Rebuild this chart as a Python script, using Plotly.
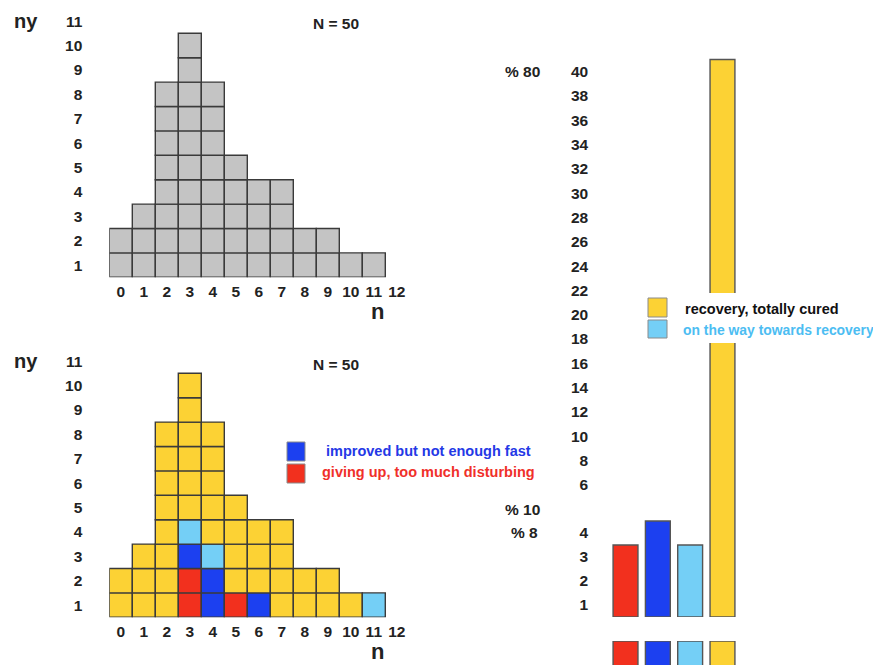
import plotly.graph_objects as go

# ---------------- data ----------------
n_values = list(range(12))
counts = [2, 3, 8, 10, 8, 5, 4, 4, 2, 2, 1, 1]
x_tick_labels = [str(i) for i in range(13)]
ny_tick_labels = [str(i) for i in range(1, 12)]

red_cells = [(3, 1), (3, 2), (5, 1)]
blue_cells = [(3, 3), (4, 1), (4, 2), (6, 1)]
lightblue_cells = [(3, 4), (4, 3), (11, 1)]

outcome_names = ["giving up, too much disturbing", "improved but not enough fast",
                 "on the way towards recovery", "recovery, totally cured"]
outcome_counts = [3, 4, 3, 40]
lower_tick_labels = [1, 2, 3, 4]
upper_tick_labels = list(range(6, 41, 2))

# ---------------- styles ----------------
W, H = 873, 665
GRAY = "#c4c4c4"
YELLOW = "#fcd234"
RED = "#f2301e"
BLUE = "#1c40f0"
LBLUE = "#74cff6"
EDGE = "#3a3a3a"
TXT = "#222222"
FONT = "Liberation Sans"
outcome_colors = [RED, BLUE, LBLUE, YELLOW]


def fx(px):
    return px / W


def fy(py):
    return 1 - py / H


fig = go.Figure()

# ---------------- grids ----------------
def cell_color(n, r):
    if (n, r) in red_cells:
        return RED
    if (n, r) in blue_cells:
        return BLUE
    if (n, r) in lightblue_cells:
        return LBLUE
    return YELLOW


for r in range(1, max(counts) + 1):
    xs = [n for n, c in zip(n_values, counts) if c >= r]
    # top grey grid
    fig.add_trace(go.Bar(x=xs, y=[1] * len(xs), base=[r - 1] * len(xs), width=1,
                         marker=dict(color=GRAY, line=dict(color=EDGE, width=1.4)),
                         xaxis="x", yaxis="y", showlegend=False, hoverinfo="skip"))
    # bottom coloured grid
    fig.add_trace(go.Bar(x=xs, y=[1] * len(xs), base=[r - 1] * len(xs), width=1,
                         marker=dict(color=[cell_color(n, r) for n in xs],
                                     line=dict(color=EDGE, width=1.4)),
                         xaxis="x2", yaxis="y2", showlegend=False, hoverinfo="skip"))

# ---------------- right bar chart (broken axis) ----------------
bar_x = list(range(len(outcome_counts)))
lower_max = 5
fig.add_trace(go.Bar(x=bar_x, y=outcome_counts, width=0.77,
                     marker=dict(color=outcome_colors, line=dict(color="#555555", width=1.4)),
                     xaxis="x3", yaxis="y3", showlegend=False, hoverinfo="skip"))
up_x = [x for x, v in zip(bar_x, outcome_counts) if v > lower_max]
up_y = [v for v in outcome_counts if v > lower_max]
up_c = [c for c, v in zip(outcome_colors, outcome_counts) if v > lower_max]
fig.add_trace(go.Bar(x=up_x, y=up_y, width=0.77,
                     marker=dict(color=up_c, line=dict(color="#555555", width=1.4)),
                     xaxis="x3", yaxis="y4", showlegend=False, hoverinfo="skip"))
# colour key squares under the bars
fig.add_trace(go.Bar(x=bar_x, y=[1] * len(bar_x), width=0.77,
                     marker=dict(color=outcome_colors, line=dict(color="#555555", width=1.4)),
                     xaxis="x3", yaxis="y5", showlegend=False, hoverinfo="skip"))

tickfont = dict(family=FONT, size=15.5, color=TXT, weight="bold")
hidden = dict(showgrid=False, zeroline=False, showline=False, ticks="", fixedrange=True)

grid_x = dict(domain=[fx(109.3), fx(408.3)], range=[-0.5, 12.5],
              tickvals=list(range(13)), ticktext=x_tick_labels, tickfont=tickfont,
              ticklabelstandoff=3, **hidden)
grid_y = dict(range=[0, 11], tickvals=[int(t) - 0.5 for t in ny_tick_labels],
              ticktext=ny_tick_labels, tickfont=tickfont, ticklabelstandoff=26, **hidden)

fig.update_layout(
    width=W, height=H, margin=dict(l=0, r=0, t=0, b=0),
    paper_bgcolor="white", plot_bgcolor="white",
    barmode="overlay", bargap=0, showlegend=False,
    xaxis=dict(anchor="y", **grid_x),
    yaxis=dict(anchor="x", domain=[fy(277.3), fy(8.9)], **grid_y),
    xaxis2=dict(anchor="y2", **grid_x),
    yaxis2=dict(anchor="x2", domain=[fy(617.3), fy(348.9)], **grid_y),
    xaxis3=dict(anchor="y3", domain=[fx(593.2), fx(754.8)], range=[-1, 4],
                showticklabels=False, **hidden),
    yaxis3=dict(anchor="x3", domain=[fy(617), fy(497)], range=[0, lower_max],
                tickvals=[t - 0.5 for t in lower_tick_labels],
                ticktext=[str(t) for t in lower_tick_labels],
                tickfont=tickfont, ticklabelstandoff=4, **hidden),
    yaxis4=dict(anchor="x3", domain=[fy(497), fy(47.4)], range=[4, 41],
                tickvals=[t - 1 for t in upper_tick_labels],
                ticktext=[str(t) for t in upper_tick_labels],
                tickfont=tickfont, ticklabelstandoff=4, **hidden),
    yaxis5=dict(anchor="x3", domain=[0, fy(641)], range=[0.04, 1],
                showticklabels=False, **hidden),
)

# ---------------- annotations ----------------
def note(text, x, y, size=14.5, color=TXT, xanchor="left"):
    fig.add_annotation(text="<b>%s</b>" % text, x=fx(x), y=fy(y), xref="paper", yref="paper",
                       xanchor=xanchor, yanchor="middle", showarrow=False,
                       font=dict(family=FONT, size=size, color=color))


for dy in (0, 340):
    note("ny", 12, 21 + dy, size=20)
    note("N = 50", 336, 24 + dy, size=15.5, xanchor="center")
    note("n", 377, 311 + dy, size=22, xanchor="center")

note("% 80", 503, 71.5, size=15.5)
note("% 10", 503, 509, size=15.5)
note("% 8", 540, 532.5, size=15.5, xanchor="right")

note(outcome_names[1], 324, 451, color="#2438e6")
note(outcome_names[0], 320, 472, color="#f0302a")
note(outcome_names[3], 683, 309, color="#111111")
note(outcome_names[2], 681, 330, size=13.9, color="#4cbdf2")

# white legend background over the tall bar
fig.add_shape(type="rect", xref="paper", yref="paper",
              x0=fx(640), x1=1, y0=fy(343), y1=fy(293),
              fillcolor="white", line=dict(width=0))

# legend squares
for (x0, y0, x1, y1, c) in [(287, 442, 305, 461, BLUE), (287, 464, 305, 483, RED),
                            (648, 298, 667, 317, YELLOW), (648, 320, 667, 338, LBLUE)]:
    fig.add_shape(type="rect", xref="paper", yref="paper",
                  x0=fx(x0), x1=fx(x1), y0=fy(y1), y1=fy(y0),
                  fillcolor=c, line=dict(color="#8a8a8a", width=1))

fig.write_html("out.html",
               config={"displayModeBar": False, "staticPlot": True},
               post_script="document.body.style.margin='0px';"
                           "document.body.style.overflow='hidden';")
